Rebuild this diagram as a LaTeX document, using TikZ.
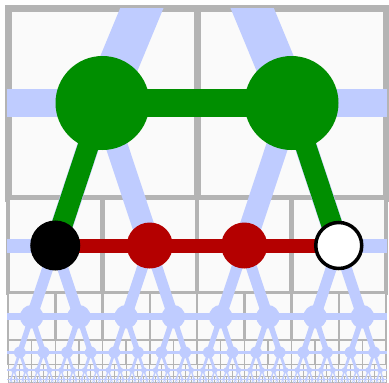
\documentclass[tikz,border=0pt]{standalone}
\pgfdeclarelayer{gridlayer}
\pgfdeclarelayer{linklayer}
\pgfsetlayers{gridlayer,linklayer,main}
\definecolor{gridgray}{RGB}{180,180,180}
\definecolor{boxfill}{RGB}{250,250,250}
\definecolor{treeblue}{RGB}{191,204,255}
\definecolor{pathgreen}{RGB}{0,142,0}
\definecolor{pathred}{RGB}{180,0,0}
\tikzset{
  gnode/.style={circle, fill=pathgreen, minimum size=94pt, inner sep=0pt},
  rnode/.style={circle, fill=pathred, minimum size=46pt, inner sep=0pt},
  bnode/.style={circle, fill=black, draw=black, line width=3pt, minimum size=47pt, inner sep=0pt},
  wnode/.style={circle, fill=white, draw=black, line width=3.5pt, minimum size=46pt, inner sep=0pt},
  greenlink/.style={pathgreen, line width=#1},
  redlink/.style={pathred, line width=14pt},
  bluelink/.style={treeblue, line width=#1},
  gridbox/.style={draw=gridgray, fill=boxfill, line width=#1}
}
\begin{document}
\begin{tikzpicture}[x=1pt,y=-1pt]
\useasboundingbox (0,0) rectangle (389,383);
\def\GL{8}\def\GT{8}\def\GW{189}\def\GH{190}
% highlighted nodes
\node[gnode] (g1) at (102.5,103) {};
\node[gnode] (g2) at (291.5,103) {};
\node[bnode] (b)  at (55.25,245.5) {};
\node[rnode] (r1) at (149.75,245.5) {};
\node[rnode] (r2) at (244.25,245.5) {};
\node[wnode] (w)  at (338.75,245.5) {};
\coordinate (up) at (197,-125);
% grid and blue tree
\begin{pgfonlayer}{gridlayer}
\foreach \k/\lw in {0/7,1/4.5,2/2.5,3/1.5,4/1,5/0.7,6/0.5,7/0.4} {
  \pgfmathsetmacro{\w}{\GW/2^\k}
  \pgfmathsetmacro{\h}{\GH/2^\k}
  \pgfmathsetmacro{\yt}{\GT+\GH*(2-2^(1-\k))}
  \pgfmathtruncatemacro{\n}{2^(\k+1)-1}
  \foreach \i in {0,...,\n} {
    \draw[gridbox=\lw] ({\GL+\i*\w},\yt) rectangle ++(\w,\h);
  }
}
\begin{scope}
\clip (7,8) rectangle (387,390);
\draw[bluelink=40] (g1.center) -- (up);
\draw[bluelink=40] (g2.center) -- (up);
\foreach \k in {0,...,6} {
  \pgfmathsetmacro{\w}{\GW/2^\k}
  \pgfmathsetmacro{\yc}{\GT+\GH*(2-1.5*2^(-\k))}
  \pgfmathsetmacro{\yn}{\GT+\GH*(2-1.5*2^(-\k-1))}
  \pgfmathsetmacro{\t}{28/2^\k}
  \pgfmathsetmacro{\e}{22/2^\k}
  \pgfmathsetmacro{\r}{47/2^\k}
  \pgfmathtruncatemacro{\n}{2^(\k+1)-1}
  \draw[bluelink=\t] (7,\yc) -- (387,\yc);
  \foreach \i in {0,...,\n} {
    \pgfmathsetmacro{\x}{\GL+(\i+0.5)*\w}
    \pgfmathsetmacro{\xa}{\GL+(2*\i+0.5)*\w/2}
    \pgfmathsetmacro{\xb}{\GL+(2*\i+1.5)*\w/2}
    \draw[bluelink=\e] (\xa,\yn) -- (\x,\yc) -- (\xb,\yn);
    \ifnum\k>1 \fill[treeblue] (\x,\yc) circle (\r); \fi
  }
}
\end{scope}
\end{pgfonlayer}
% highlighted connectors
\begin{pgfonlayer}{linklayer}
\draw[greenlink=28] (g1.center) -- (g2.center);
\draw[greenlink=21] (g1.center) -- (b.center);
\draw[greenlink=21] (g2.center) -- (w.center);
\draw[redlink] (b.center) -- (r1.center) -- (r2.center) -- (w.center);
\end{pgfonlayer}
\end{tikzpicture}
\end{document}
